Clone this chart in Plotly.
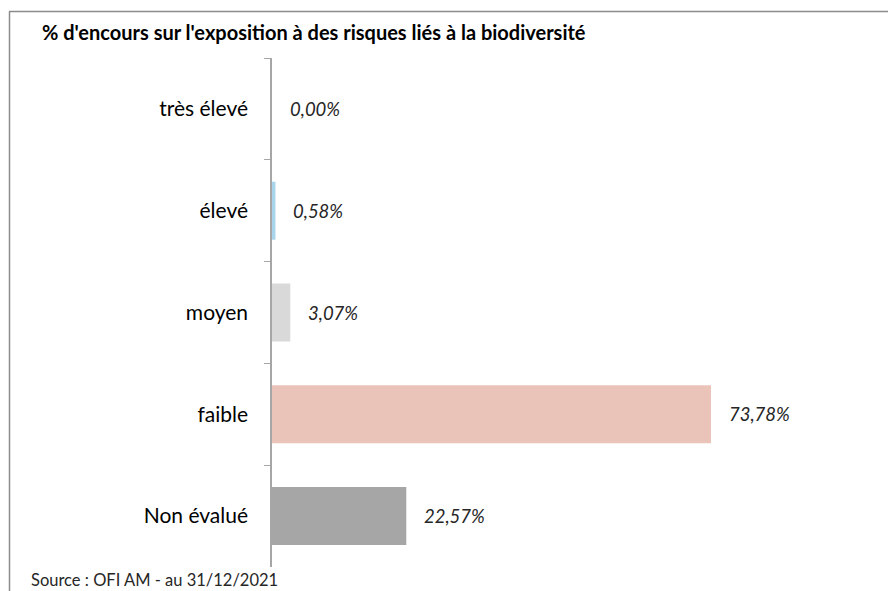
import plotly.graph_objects as go

categories = ["très élevé", "élevé", "moyen", "faible", "Non évalué"]
values = [0.00, 0.58, 3.07, 73.78, 22.57]
value_labels = ["0,00%", "0,58%", "3,07%", "73,78%", "22,57%"]
colors = ["#A8D4EC", "#A8D4EC", "#D9D9D9", "#EAC4B9", "#A6A6A6"]

title_text = "% d'encours sur l'exposition à des risques liés à la biodiversité"
source_text = "Source : OFI AM - au 31/12/2021"

OFF = 8  # page body margin
W, H = 896 - OFF, 591 - OFF
L, R, T, B = 272 - OFF, 0, 58 - OFF, 24
pw, ph = W - L - R, H - T - B

def px(x):
    return (x - OFF - L) / pw

def py(y):
    return 1 - (y - OFF - T) / ph

FONT = "Lato"

fig = go.Figure()
fig.add_trace(go.Bar(
    x=values, y=categories, orientation="h",
    marker=dict(color=colors, line=dict(width=0)),
    hoverinfo="skip",
))

for v, lab, c in zip(values, value_labels, categories):
    fig.add_annotation(x=v, y=c, text="<i>" + lab + "</i>", showarrow=False, xanchor="left",
                       xshift=16, font=dict(family=FONT, size=18.5, color="#262626"))

fig.add_annotation(xref="paper", yref="paper", x=px(40), y=py(32), text="<b>" + title_text + "</b>",
                   showarrow=False, xanchor="left", yanchor="middle",
                   font=dict(family=FONT, size=20, color="#000000"))
fig.add_annotation(xref="paper", yref="paper", x=px(29), y=py(580), text=source_text,
                   showarrow=False, xanchor="left", yanchor="middle",
                   font=dict(family=FONT, size=16.5, color="#262626"))

# frame lines (top and left)
fig.add_shape(type="line", xref="paper", yref="paper", x0=px(9), x1=px(910), y0=py(11.5), y1=py(11.5),
              line=dict(color="#8C8C8C", width=1.5))
fig.add_shape(type="line", xref="paper", yref="paper", x0=px(9.5), x1=px(9.5), y0=py(11.5), y1=py(610),
              line=dict(color="#8C8C8C", width=1.5))

fig.update_layout(
    width=W, height=H,
    margin=dict(l=L, r=R, t=T, b=B),
    paper_bgcolor="white", plot_bgcolor="white",
    bargap=0.43, showlegend=False,
    xaxis=dict(range=[0, (W - L) / 5.95], visible=False, fixedrange=True),
    yaxis=dict(autorange="reversed", type="category", tickson="boundaries",
               ticks="outside", ticklen=6, tickcolor="#A6A6A6", tickwidth=1.2,
               showline=True, linecolor="#A6A6A6", linewidth=1.5, showgrid=False,
               ticklabelstandoff=18,
               tickfont=dict(family=FONT, size=21, color="#000000")),
)

fig.write_html("out.html")
